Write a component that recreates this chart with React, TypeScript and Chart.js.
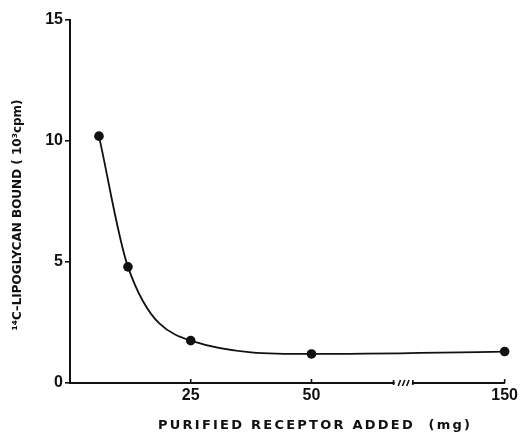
import React, { useEffect, useRef } from "react";
import { Chart, registerables } from "chart.js";

Chart.register(...registerables);

// ---- data ----
const receptorAdded = [6, 12, 25, 50, 150]; // mg
const lipoglycanBound = [10.2, 4.8, 1.75, 1.2, 1.3]; // 10^3 cpm
const xTickValues = [25, 50, 150];
const yTickValues = [0, 5, 10, 15];
const xTitle = "PURIFIED RECEPTOR ADDED  (mg)";
const yTitle = "¹⁴C–LIPOGLYCAN BOUND ( 10³cpm)";

// axis break: values above 50 are compressed
const breakFrom = 50;
const breakCompress = 0.4;
const breakGap = [67.0, 71.0]; // display units where the axis is cut

const toDisplay = (x: number) =>
  x <= breakFrom ? x : breakFrom + (x - breakFrom) * breakCompress;
const displayMax = toDisplay(150);

const TICK_FONT = '"Liberation Sans", Arial, sans-serif';
const TITLE_FONT = '"DejaVu Sans", "Liberation Sans", sans-serif';

const decorPlugin = {
  id: "decor",
  afterDraw(chart: any) {
    const ctx = chart.ctx;
    const xs = chart.scales.x;
    const bottom = chart.chartArea.bottom;
    ctx.save();
    ctx.strokeStyle = "#111";
    ctx.lineWidth = 1.6;
    // inward tick marks on x axis
    xTickValues.forEach((v) => {
      const px = xs.getPixelForValue(toDisplay(v));
      ctx.beginPath();
      ctx.moveTo(px, bottom);
      ctx.lineTo(px, bottom - 4);
      ctx.stroke();
    });
    // axis break
    const x1 = xs.getPixelForValue(breakGap[0]);
    const x2 = xs.getPixelForValue(breakGap[1]);
    ctx.fillStyle = "#fff";
    ctx.fillRect(x1 + 1, bottom - 2, x2 - x1 - 2, 4);
    ctx.beginPath();
    ctx.moveTo(x1, bottom - 3);
    ctx.lineTo(x1, bottom + 2);
    ctx.moveTo(x2, bottom - 3);
    ctx.lineTo(x2, bottom + 2);
    [0.3, 0.52, 0.74].forEach((f) => {
      const cx = x1 + (x2 - x1) * f;
      ctx.moveTo(cx - 1.2, bottom + 3);
      ctx.lineTo(cx + 1.2, bottom - 3);
    });
    ctx.stroke();

    // titles
    ctx.fillStyle = "#111";
    ctx.textAlign = "center";
    ctx.textBaseline = "middle";
    const drawFit = (text: string, target: number) => {
      (ctx as any).letterSpacing = "0px";
      const w = ctx.measureText(text).width;
      const sp = Math.max(0, (target - w) / (text.length - 1));
      (ctx as any).letterSpacing = sp.toFixed(2) + "px";
      ctx.fillText(text, sp / 2, 0);
      (ctx as any).letterSpacing = "0px";
    };
    ctx.font = "bold 13px " + TITLE_FONT;
    ctx.save();
    ctx.translate(314, 426);
    drawFit(xTitle, 312);
    ctx.restore();
    ctx.font = "bold 12px " + TITLE_FONT;
    ctx.save();
    ctx.translate(18, 215);
    ctx.rotate(-Math.PI / 2);
    drawFit(yTitle, 224);
    ctx.restore();
    ctx.restore();
  },
};

export default function App() {
  const ref = useRef<HTMLCanvasElement | null>(null);
  useEffect(() => {
    if (!ref.current) return;
    const chart = new Chart(ref.current, {
      type: "line",
      data: {
        datasets: [
          {
            data: receptorAdded.map((x, i) => ({ x: toDisplay(x), y: lipoglycanBound[i] })),
            borderColor: "#111",
            backgroundColor: "#111",
            borderWidth: 1.8,
            pointRadius: 4.8,
            pointBackgroundColor: "#111",
            pointBorderWidth: 0,
            cubicInterpolationMode: "monotone",
            clip: false,
            fill: false,
          },
        ],
      },
      options: {
        animation: false,
        responsive: true,
        maintainAspectRatio: false,
        layout: { padding: { top: 20, right: 15, left: 0, bottom: 0 } },
        plugins: { legend: { display: false }, tooltip: { enabled: false } },
        scales: {
          x: {
            type: "linear",
            min: 0,
            max: displayMax,
            afterBuildTicks: (s: any) => {
              s.ticks = xTickValues.map((v) => ({ value: toDisplay(v) }));
            },
            afterFit: (s: any) => {
              s.height = 53;
            },
            ticks: {
              autoSkip: false,
              maxRotation: 0,
              padding: 3,
              color: "#111",
              font: { family: TICK_FONT, size: 16, weight: "bold" },
              callback: (v: any) => {
                const idx = xTickValues.findIndex((t) => Math.abs(toDisplay(t) - v) < 1e-6);
                return idx >= 0 ? String(xTickValues[idx]) : "";
              },
            },
            grid: { display: false, drawTicks: false },
            border: { display: true, color: "#111", width: 2 },
          },
          y: {
            type: "linear",
            min: 0,
            max: 15,
            afterBuildTicks: (s: any) => {
              s.ticks = yTickValues.map((v) => ({ value: v }));
            },
            afterFit: (s: any) => {
              s.width = 70;
            },
            ticks: {
              padding: 2,
              color: "#111",
              font: { family: TICK_FONT, size: 16, weight: "bold" },
            },
            grid: {
              display: true,
              drawOnChartArea: false,
              drawTicks: true,
              tickLength: 5,
              color: "#111",
              lineWidth: 1.6,
            },
            border: { display: true, color: "#111", width: 2 },
          },
        },
      } as any,
      plugins: [decorPlugin],
    });
    return () => chart.destroy();
  }, []);
  return (
    <div
      style={{
        position: "fixed",
        left: 0,
        top: 0,
        width: 521,
        height: 436,
        background: "#fff",
      }}
    >
      <canvas ref={ref} />
    </div>
  );
}
